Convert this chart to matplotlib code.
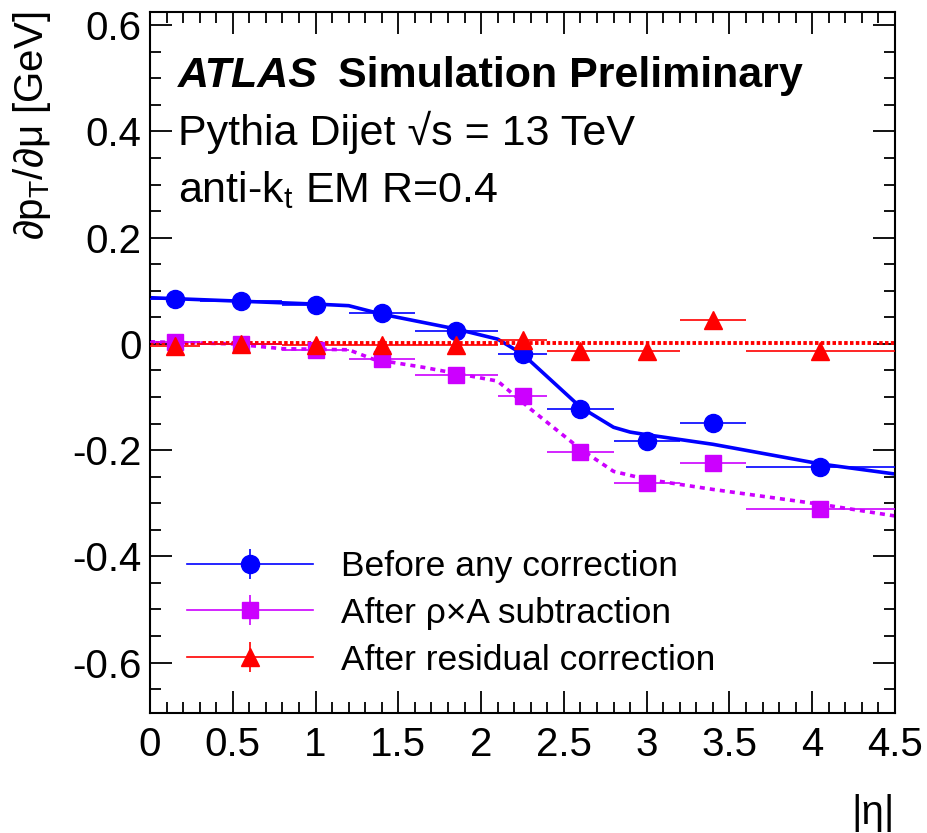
import numpy as np
import matplotlib
matplotlib.use("Agg")
from matplotlib import pyplot as plt
from matplotlib.lines import Line2D
from matplotlib.ticker import MultipleLocator, FuncFormatter

plt.rcParams['font.family'] = ['Liberation Sans', 'DejaVu Sans']
plt.rcParams['mathtext.fontset'] = 'custom'
plt.rcParams['mathtext.rm'] = 'Liberation Sans'
plt.rcParams['mathtext.it'] = 'Liberation Sans:italic'
plt.rcParams['mathtext.bf'] = 'Liberation Sans:bold'

# |eta| bins
eta_edges = [0, 0.3, 0.8, 1.2, 1.6, 2.1, 2.4, 2.8, 3.2, 3.6, 4.5]

# points
before = [0.084, 0.080, 0.073, 0.058, 0.024, -0.019, -0.122, -0.183, -0.149, -0.232]
after_rho = [0.003, 0.000, -0.012, -0.029, -0.059, -0.098, -0.204, -0.262, -0.225, -0.311]
after_res = [-0.004, -0.001, -0.002, -0.002, -0.002, 0.007, -0.013, -0.013, 0.045, -0.013]

# smooth curves
before_curve_eta = [0, 0.5, 1.0, 1.2, 1.4, 1.85, 2.1, 2.25, 2.6, 2.8, 2.9, 3.0, 3.4, 4.05, 4.5]
before_curve = [0.087, 0.081, 0.075, 0.072, 0.056, 0.028, 0.009, -0.019, -0.119, -0.157,
                -0.166, -0.171, -0.189, -0.226, -0.245]
rho_curve_eta = [0, 0.5, 0.8, 1.2, 1.35, 1.65, 2.1, 2.3, 2.6, 2.8, 3.0, 3.4, 4.05, 4.5]
rho_curve = [0.004, 0.0, -0.009, -0.011, -0.029, -0.044, -0.07, -0.123, -0.198, -0.24,
             -0.255, -0.274, -0.302, -0.324]
res_curve_eta = [0, 4.5]
res_curve = [0.001, 0.001]

labels = ["Before any correction", "After \u03c1\u00d7A subtraction", "After residual correction"]

edges = np.array(eta_edges)
eta = 0.5*(edges[:-1] + edges[1:])
xerr = 0.5*(edges[1:] - edges[:-1])

fig = plt.figure(figsize=(9.27, 8.33), dpi=100)
ax = fig.add_axes([150/927, 1-713/833, 745/927, 701/833])

blue = '#0000ff'
mag = '#cc00ff'
red = '#ff0000'

ax.plot(before_curve_eta, before_curve, color=blue, lw=2.6, zorder=2)
ax.plot(rho_curve_eta, rho_curve, color=mag, lw=2.6, ls=(0, (1.4, 1.4)), zorder=2)
ax.plot(res_curve_eta, res_curve, color=red, lw=2.8, ls=(0, (0.9, 0.6)), zorder=2)

ax.errorbar(eta, before, xerr=xerr, fmt='o', color=blue, ms=13, elinewidth=1.2, capsize=0, zorder=3)
ax.errorbar(eta, after_rho, xerr=xerr, fmt='s', color=mag, ms=12, elinewidth=1.2, capsize=0, zorder=3)
ax.errorbar(eta, after_res, xerr=xerr, fmt='^', color=red, ms=13, elinewidth=1.2, capsize=0, zorder=3)

ax.set_xlim(0, 4.5)
ax.set_ylim(-0.695, 0.625)
ax.xaxis.set_major_locator(MultipleLocator(0.5))
ax.xaxis.set_minor_locator(MultipleLocator(0.1))
ax.yaxis.set_major_locator(MultipleLocator(0.2))
ax.yaxis.set_minor_locator(MultipleLocator(0.05))
ax.xaxis.set_major_formatter(FuncFormatter(lambda v, p: f"{v:g}"))
ax.yaxis.set_major_formatter(FuncFormatter(lambda v, p: "0" if abs(v) < 1e-9 else f"{v:g}"))
ax.tick_params(which='both', direction='in', top=True, right=True, width=1.3, labelsize=29)
ax.tick_params(which='major', length=16)
ax.tick_params(which='minor', length=8)
ax.tick_params(axis='x', pad=9)
ax.tick_params(axis='y', pad=6)
for s in ax.spines.values():
    s.set_linewidth(1.5)

ax.set_xlabel("|\u03b7|", fontsize=29, loc='right', labelpad=22)
ax.set_ylabel("\u2202p$_{\\rm T}$/\u2202\u03bc [GeV]", fontsize=29, loc='top', labelpad=14)

# legend
handles = []
for c, m, ms in [(blue, 'o', 13), (mag, 's', 12), (red, '^', 13)]:
    ln = Line2D([], [], color=c, lw=1.2)
    mk = Line2D([], [], color=c, marker=m, ms=ms, ls='none')
    vb = Line2D([], [], color=c, marker='|', ms=22, mew=1.2, ls='none')
    handles.append((ln, vb, mk))
leg = ax.legend(handles, labels, loc='upper left', bbox_to_anchor=((187-150)/745, (713-550)/701),
                frameon=False, fontsize=25.5, handlelength=3.56, handletextpad=0.8,
                labelspacing=0.39, borderpad=0, borderaxespad=0)

fig.text(178/927, 1-87/833, "ATLAS", fontsize=31, fontweight='bold', style='italic', va='baseline')
fig.text(338/927, 1-87/833, "Simulation Preliminary", fontsize=31, fontweight='bold', va='baseline')
fig.text(178/927, 1-145/833, "Pythia Dijet \u221as = 13 TeV", fontsize=31, va='baseline')
fig.text(178/927, 1-202/833, r"anti-k$_{\rm t}$ EM R=0.4", fontsize=31, va='baseline')

fig.savefig("out.png", dpi=100)
